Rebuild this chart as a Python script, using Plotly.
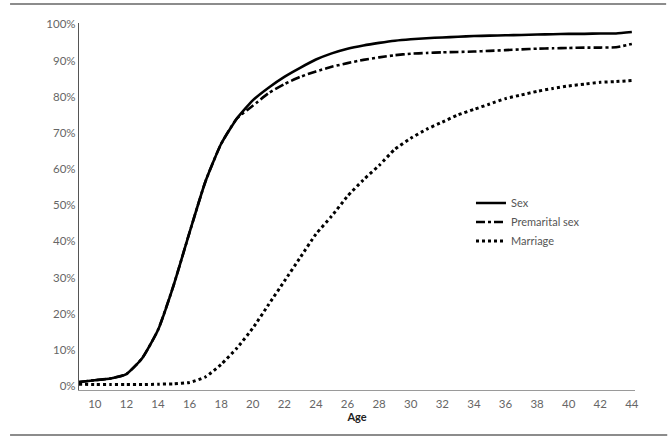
import plotly.graph_objects as go

ages = list(range(9, 45))
sex = [1.1, 1.6, 2.1, 3.3, 7.7, 15.5, 28.0, 42.5, 56.5, 67.0, 74.0, 79.0, 82.5, 85.5,
       88.0, 90.3, 92.0, 93.3, 94.2, 94.9, 95.5, 95.9, 96.2, 96.4, 96.6, 96.8, 96.9,
       97.0, 97.1, 97.2, 97.3, 97.4, 97.4, 97.5, 97.5, 97.9]
premarital = [1.1, 1.6, 2.1, 3.3, 7.7, 15.5, 28.0, 42.5, 56.5, 67.0, 74.0, 77.5, 81.0, 83.5,
              85.5, 87.0, 88.3, 89.3, 90.2, 90.9, 91.5, 91.9, 92.1, 92.3, 92.4, 92.5, 92.7,
              92.9, 93.1, 93.3, 93.4, 93.5, 93.6, 93.6, 93.7, 94.6]
marriage = [0.5, 0.4, 0.4, 0.4, 0.4, 0.5, 0.6, 1.0, 2.5, 6.0, 10.5, 16.0, 22.5, 29.0,
            35.5, 42.0, 47.0, 52.5, 57.0, 61.0, 65.5, 68.5, 71.0, 73.0, 75.0, 76.5, 78.0,
            79.5, 80.5, 81.5, 82.3, 83.0, 83.5, 84.0, 84.2, 84.5]

x_ticks = list(range(10, 45, 2))
y_ticks = [i / 10 for i in range(0, 11)]
y_labels = [f"{i*10}%" for i in range(0, 11)]

fig = go.Figure()
fig.add_trace(go.Scatter(x=ages, y=[v / 100 for v in sex], name="Sex", mode="lines",
                         line=dict(color="black", width=2.6, shape="spline", smoothing=0.5)))
fig.add_trace(go.Scatter(x=ages, y=[v / 100 for v in premarital], name="Premarital sex", mode="lines",
                         line=dict(color="black", width=2.6, dash="9px,3px,3px,3px", shape="spline", smoothing=0.5)))
fig.add_trace(go.Scatter(x=ages, y=[v / 100 for v in marriage], name="Marriage", mode="lines",
                         line=dict(color="black", width=3, dash="dot", shape="spline", smoothing=0.5)))

tickfont = dict(family="Lato, sans-serif", size=11.5, color="#666666")
fig.update_layout(
    width=672, height=442,
    margin=dict(l=79, r=37, t=23, b=52),
    paper_bgcolor="white", plot_bgcolor="white",
    showlegend=True,
    legend=dict(x=0.705, y=0.549, xanchor="left", yanchor="top",
                font=dict(family="Lato, sans-serif", size=11, color="#555555"),
                bgcolor="rgba(0,0,0,0)", itemwidth=30, tracegroupgap=0),
    xaxis=dict(range=[9, 44.2], tickvals=x_ticks, ticktext=[str(t) for t in x_ticks],
               showgrid=False, zeroline=False, showline=True, linecolor="#9a9a9a", linewidth=1,
               ticks="", tickfont=tickfont, ticklabelstandoff=3,
               title=dict(text="<b>Age</b>", font=dict(family="Lato, sans-serif", size=11, color="#222222"),
                          standoff=1)),
    yaxis=dict(range=[-0.011, 1.004], tickvals=y_ticks, ticktext=y_labels,
               showgrid=False, zeroline=False, showline=True, linecolor="#555555", linewidth=1.2,
               ticks="", tickfont=tickfont),
)
fig.add_shape(type="line", xref="paper", yref="paper", x0=-0.124, x1=1.056, y0=1.052, y1=1.052,
              line=dict(color="#666666", width=1.5))
fig.add_shape(type="line", xref="paper", yref="paper", x0=-0.124, x1=1.058, y0=-0.1226, y1=-0.1226,
              line=dict(color="#666666", width=1.5))

fig.write_html("out.html")
